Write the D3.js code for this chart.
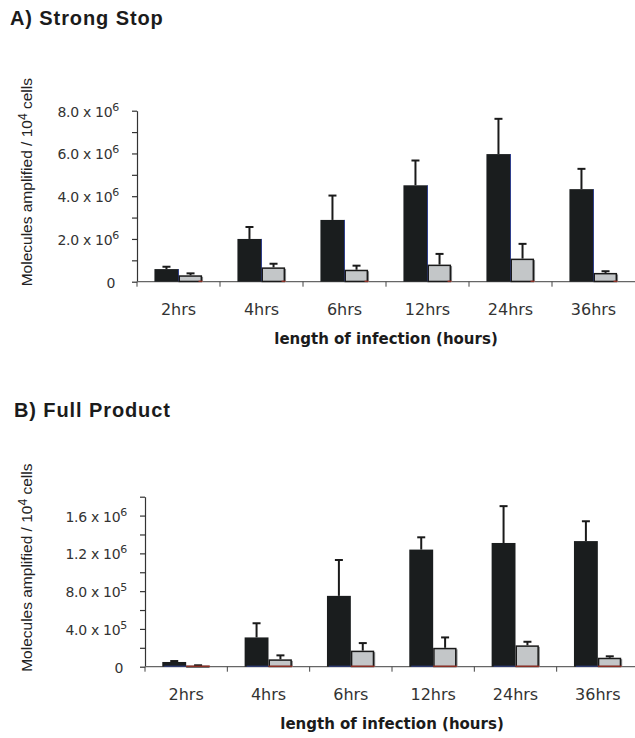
<!DOCTYPE html>
<html>
<head>
<meta charset="utf-8">
<script src="https://cdn.jsdelivr.net/npm/d3@7"></script>
<style>
  body { margin: 0; background: #fff; }
  svg { display: block; }
  .panel-title { font-family: "Liberation Sans", Arial, sans-serif; font-weight: bold; font-size: 20px; fill: #1b1b1b; }
  .y-title { font-family: "Liberation Sans", Arial, sans-serif; font-size: 15.5px; fill: #222; }
  .tick-label { font-family: "DejaVu Sans", sans-serif; font-size: 14px; fill: #333; }
  .cat-label { font-family: "DejaVu Sans", sans-serif; font-size: 16px; fill: #333; }
  .x-title { font-family: "DejaVu Sans", sans-serif; font-weight: bold; font-size: 15px; fill: #1b1b1b; }
</style>
</head>
<body>
<svg id="chart" width="635" height="738"></svg>
<script>
const width = 635;
const height = 738;

/* DATA (molecules amplified / 10^4 cells) */
const categories = ["2hrs", "4hrs", "6hrs", "12hrs", "24hrs", "36hrs"];

// A) Strong Stop
const strongBlack    = [0.59e6, 2.00e6, 2.89e6, 4.51e6, 5.97e6, 4.33e6];
const strongBlackErr = [0.11e6, 0.56e6, 1.14e6, 1.16e6, 1.65e6, 0.95e6];
const strongGrey     = [0.30e6, 0.67e6, 0.56e6, 0.80e6, 1.08e6, 0.41e6];
const strongGreyErr  = [0.09e6, 0.17e6, 0.19e6, 0.50e6, 0.69e6, 0.08e6];

// B) Full Product
const fullBlack    = [0.050e6, 0.31e6, 0.75e6, 1.24e6, 1.31e6, 1.33e6];
const fullBlackErr = [0.010e6, 0.15e6, 0.38e6, 0.13e6, 0.39e6, 0.21e6];
const fullGrey     = [0.012e6, 0.078e6, 0.17e6, 0.20e6, 0.226e6, 0.095e6];
const fullGreyErr  = [0.003e6, 0.042e6, 0.08e6, 0.11e6, 0.038e6, 0.015e6];

// y ticks: [value, mantissa, exponent]
const strongTicks = [[0, "0", ""], [2e6, "2.0", "6"], [4e6, "4.0", "6"], [6e6, "6.0", "6"], [8e6, "8.0", "6"]];
const strongMinor = [1e6, 3e6, 5e6, 7e6];
const fullTicks = [[0, "0", ""], [4e5, "4.0", "5"], [8e5, "8.0", "5"], [1.2e6, "1.2", "6"], [1.6e6, "1.6", "6"]];
const fullMinor = [2e5, 6e5, 1.0e6, 1.4e6, 1.8e6];

const series = ["black", "grey"];

const svg = d3.select("#chart");

drawPanel({
  title: "A) Strong Stop", titleX: 10, titleY: 25,
  x0: 137, x1: 635, yBottom: 281.7, yTop: 110.7, yMax: 8e6,
  black: strongBlack, blackErr: strongBlackErr,
  grey: strongGrey, greyErr: strongGreyErr,
  ticks: strongTicks, minor: strongMinor,
  edge: "right"
});

drawPanel({
  title: "B) Full Product", titleX: 14, titleY: 416.7,
  x0: 145, x1: 639, yBottom: 666.7, yTop: 496.7, yMax: 1.8e6,
  black: fullBlack, blackErr: fullBlackErr,
  grey: fullGrey, greyErr: fullGreyErr,
  ticks: fullTicks, minor: fullMinor,
  edge: "bottom"
});


function drawPanel(p) {
  const g = svg.append("g");

  const x = d3.scaleBand()
    .domain(categories)
    .range([p.x0, p.x1])
    .paddingInner(0.42)
    .paddingOuter(0.21);

  const xs = d3.scaleBand()
    .domain(series)
    .range([0, x.bandwidth()]);

  const y = d3.scaleLinear()
    .domain([0, p.yMax])
    .range([p.yBottom, p.yTop]);

  // title
  g.append("text")
    .attr("class", "panel-title")
    .attr("x", p.titleX)
    .attr("y", p.titleY)
    .attr("letter-spacing", 0.9)
    .text(p.title);

  // y axis line + ticks
  const allTicks = p.ticks.map(d => d[0]).concat(p.minor);
  const yAxis = d3.axisLeft(y)
    .tickValues(allTicks)
    .tickSize(5)
    .tickSizeOuter(0)
    .tickFormat("");
  const yGroup = g.append("g")
    .attr("transform", translate(p.x0, 0))
    .call(yAxis);
  yGroup.selectAll("path, line").attr("stroke", "#333").attr("stroke-width", 1.2);

  // y tick labels with superscript exponent
  const labels = g.append("g").selectAll("text")
    .data(p.ticks)
    .enter()
    .append("text")
    .attr("class", "tick-label")
    .attr("text-anchor", "end")
    .attr("letter-spacing", -0.3)
    .attr("x", d => d[2] ? p.x0 - 18 : p.x0 - 22)
    .attr("y", d => y(d[0]) + 6);

  labels.append("tspan").text(d => d[2] ? d[1] + " x 10" : d[1]);
  labels.append("tspan")
    .attr("dy", -6)
    .attr("font-size", 11)
    .text(d => d[2]);

  // y axis title
  g.append("text")
    .attr("class", "y-title")
    .attr("text-anchor", "middle")
    .attr("transform", translate(32, (p.yBottom + p.yTop) / 2 - 14) + " rotate(-90)")
    .call(t => {
      t.append("tspan").text("Molecules amplified / 10");
      t.append("tspan").attr("dy", -5).attr("font-size", 12).text("4");
      t.append("tspan").attr("dy", 5).text(" cells");
    });

  // x axis: line with category boundary ticks
  const boundaries = d3.range(categories.length).map(i => p.x0 + i * x.step());
  g.append("line")
    .attr("x1", p.x0).attr("x2", p.x1)
    .attr("y1", p.yBottom).attr("y2", p.yBottom)
    .attr("stroke", "#666").attr("stroke-width", 1.2);
  g.append("g").selectAll("line")
    .data(boundaries)
    .enter()
    .append("line")
    .attr("x1", d => d).attr("x2", d => d)
    .attr("y1", p.yBottom).attr("y2", p.yBottom + 5)
    .attr("stroke", "#444").attr("stroke-width", 1);

  // category labels
  g.append("g").selectAll("text")
    .data(categories)
    .enter()
    .append("text")
    .attr("class", "cat-label")
    .attr("text-anchor", "middle")
    .attr("x", d => x(d) + x.bandwidth() / 2)
    .attr("y", p.yBottom + 33)
    .text(d => d);

  // x title
  g.append("text")
    .attr("class", "x-title")
    .attr("text-anchor", "middle")
    .attr("x", (p.x0 + p.x1) / 2)
    .attr("y", p.yBottom + 62)
    .text("length of infection (hours)");

  // bars
  const rows = categories.map((c, i) => ({
    cat: c,
    black: p.black[i], blackErr: p.blackErr[i],
    grey: p.grey[i], greyErr: p.greyErr[i]
  }));

  const barGroup = g.append("g");
  const bw = xs.bandwidth();

  // error bars (upper half only)
  const errs = [];
  rows.forEach(r => {
    errs.push({ cx: x(r.cat) + xs("black") + bw / 2, v: r.black, e: r.blackErr });
    errs.push({ cx: x(r.cat) + xs("grey") + bw / 2, v: r.grey, e: r.greyErr });
  });
  const errGroup = barGroup.append("g");
  errGroup.selectAll("line.stem")
    .data(errs)
    .enter()
    .append("line")
    .attr("class", "stem")
    .attr("x1", d => d.cx).attr("x2", d => d.cx)
    .attr("y1", d => y(d.v)).attr("y2", d => y(d.v + d.e))
    .attr("stroke", "#1a1a1a").attr("stroke-width", 2);
  errGroup.selectAll("line.cap")
    .data(errs)
    .enter()
    .append("line")
    .attr("class", "cap")
    .attr("x1", d => d.cx - 4).attr("x2", d => d.cx + 4)
    .attr("y1", d => y(d.v + d.e)).attr("y2", d => y(d.v + d.e))
    .attr("stroke", "#1a1a1a").attr("stroke-width", 2);

  // black bars
  barGroup.selectAll("rect.black")
    .data(rows)
    .enter()
    .append("rect")
    .attr("class", "black")
    .attr("x", d => x(d.cat) + xs("black"))
    .attr("y", d => y(d.black))
    .attr("width", bw)
    .attr("height", d => p.yBottom - y(d.black))
    .attr("fill", "#1a1d1e");

  // faint blue edge on black bars
  barGroup.selectAll("line.blue")
    .data(rows)
    .enter()
    .append("line")
    .attr("class", "blue")
    .attr("x1", d => p.edge === "right" ? x(d.cat) + xs("black") + bw : x(d.cat) + xs("black") + 2)
    .attr("x2", d => x(d.cat) + xs("black") + bw)
    .attr("y1", d => p.edge === "right" ? y(d.black) : p.yBottom - 0.5)
    .attr("y2", p.yBottom - 0.5)
    .attr("stroke", "#2f3f8c").attr("stroke-width", 1);

  // grey bars with shadow
  barGroup.selectAll("rect.shadow")
    .data(rows)
    .enter()
    .append("rect")
    .attr("class", "shadow")
    .attr("x", d => x(d.cat) + xs("grey") + 1.5)
    .attr("y", d => y(d.grey) + 1.5)
    .attr("width", bw - 1)
    .attr("height", d => Math.max(0, p.yBottom - y(d.grey) - 1.5))
    .attr("fill", "#8a8d8f");

  barGroup.selectAll("rect.grey")
    .data(rows)
    .enter()
    .append("rect")
    .attr("class", "grey")
    .attr("x", d => x(d.cat) + xs("grey") + 0.75)
    .attr("y", d => y(d.grey) + 0.75)
    .attr("width", bw - 2)
    .attr("height", d => Math.max(0.5, p.yBottom - y(d.grey) - 1))
    .attr("fill", "#c3c6c8")
    .attr("stroke", "#1a1a1a")
    .attr("stroke-width", 1.5);

  // thin red line at the base of grey bars
  barGroup.selectAll("line.red")
    .data(rows)
    .enter()
    .append("line")
    .attr("class", "red")
    .attr("x1", d => x(d.cat) + xs("grey") + (p.edge === "right" ? bw - 4 : 0))
    .attr("x2", d => x(d.cat) + xs("grey") + bw)
    .attr("y1", p.yBottom - 0.5).attr("y2", p.yBottom - 0.5)
    .attr("stroke", "#c0392b").attr("stroke-width", 1);
}


/*
 * returns a translate string for the transform attribute
 */
function translate(x, y) {
  return 'translate(' + String(x) + ',' + String(y) + ')';
}
</script>
</body>
</html>
